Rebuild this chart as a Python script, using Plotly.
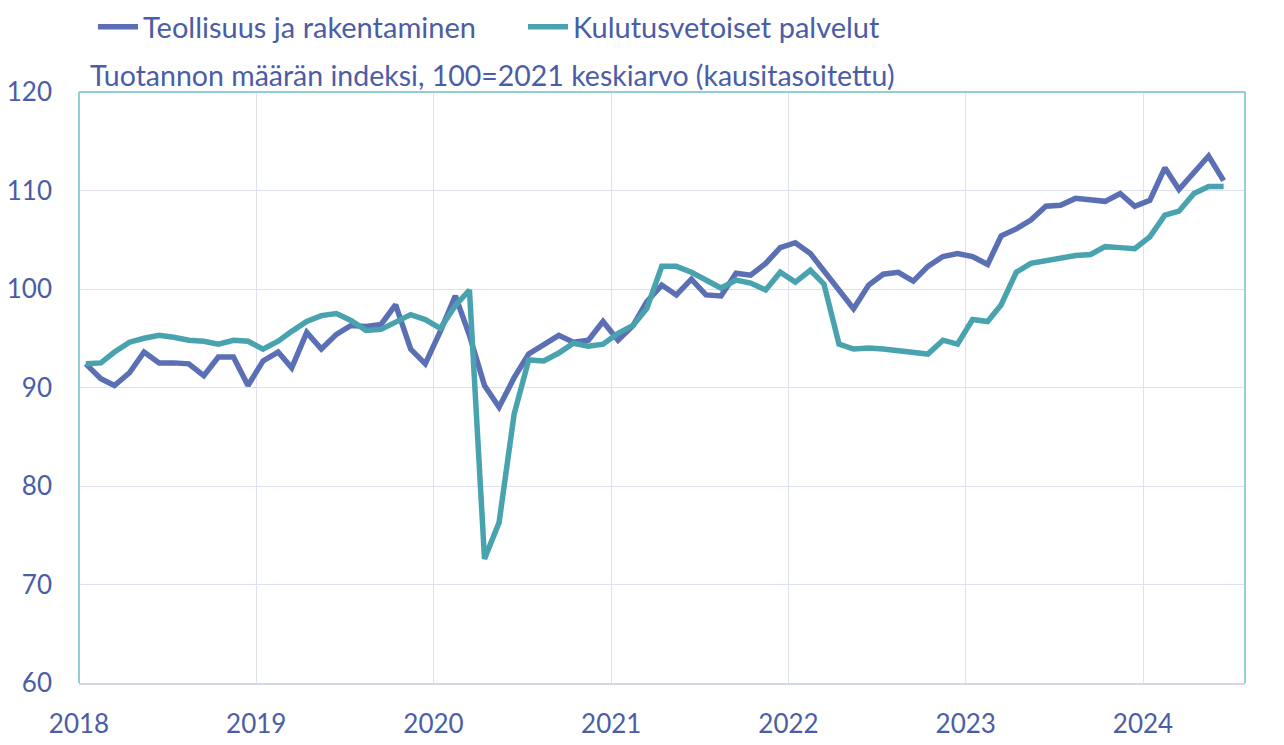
import pandas as pd
import plotly.graph_objects as go

# Monthly values, Jan 2018 - Jun 2024
teollisuus = [
    92.4, 90.9, 90.2, 91.5, 93.6, 92.5, 92.5, 92.4, 91.2, 93.1, 93.1, 90.2,   # 2018
    92.7, 93.6, 92.0, 95.6, 93.9, 95.4, 96.3, 96.2, 96.4, 98.4, 93.9, 92.4,   # 2019
    95.7, 99.3, 95.3, 90.2, 88.0, 91.0, 93.4, 94.4, 95.3, 94.6, 94.8, 96.7,   # 2020
    94.8, 96.3, 98.7, 100.4, 99.4, 101.0, 99.4, 99.3, 101.6, 101.4, 102.6, 104.2,  # 2021
    104.7, 103.6, 101.9, 100.0, 98.0, 100.4, 101.5, 101.7, 100.8, 102.3, 103.3, 103.6,  # 2022
    103.3, 102.5, 105.4, 106.1, 107.0, 108.4, 108.5, 109.2, 109.1, 108.9, 109.7, 108.4,  # 2023
    109.0, 112.3, 110.1, 111.8, 113.5, 111.0,  # 2024
]
kulutus = [
    92.4, 92.5, 93.6, 94.6, 95.0, 95.3, 95.1, 94.8, 94.7, 94.4, 94.8, 94.7,   # 2018
    93.9, 94.7, 95.7, 96.7, 97.3, 97.5, 96.8, 95.8, 95.9, 96.6, 97.4, 96.9,   # 2019
    96.0, 98.3, 99.9, 72.6, 76.3, 87.3, 92.8, 92.7, 93.5, 94.5, 94.2, 94.4,   # 2020
    95.5, 96.3, 98.0, 102.3, 102.3, 101.7, 100.9, 100.1, 100.9, 100.6, 99.9, 101.7,  # 2021
    100.7, 101.9, 100.5, 94.4, 93.9, 94.0, 93.9, 93.7, 93.5, 93.4, 94.8, 94.4,  # 2022
    96.9, 96.7, 98.4, 101.7, 102.6, 102.9, 103.2, 103.4, 103.5, 104.3, 104.2, 104.1,  # 2023
    105.3, 107.5, 107.9, 109.7, 110.4, 110.4,  # 2024
]
months = (pd.date_range("2018-01-01", periods=len(teollisuus), freq="MS") + pd.Timedelta(days=14)).strftime("%Y-%m-%d").tolist()
years = [str(y) for y in range(2018, 2025)]
series_names = ["Teollisuus ja rakentaminen", "Kulutusvetoiset palvelut"]
subtitle = "Tuotannon määrän indeksi, 100=2021 keskiarvo (kausitasoitettu)"

BLUE = "#5b6fb4"
TEAL = "#49a3ae"
TXT = "#4a5da6"
GRID = "#dde0ef"
FRAME = "#95cdd4"
FONT = "Lato"

fig = go.Figure()
fig.add_trace(go.Scatter(x=months, y=teollisuus, mode="lines", name=series_names[0],
                         line=dict(color=BLUE, width=5.5)))
fig.add_trace(go.Scatter(x=months, y=kulutus, mode="lines", name=series_names[1],
                         line=dict(color=TEAL, width=5.5)))

fig.update_layout(
    width=1276, height=737,
    margin=dict(l=71, r=39, t=84, b=62, autoexpand=False),
    paper_bgcolor="white", plot_bgcolor="white",
    font=dict(family=FONT, color=TXT, size=28),
    showlegend=True,
    legend=dict(orientation="h", x=0.012, xanchor="left", y=1.11, yanchor="middle",
                entrywidth=375, entrywidthmode="pixels", itemwidth=40,
                font=dict(size=29, color=TXT, family=FONT), bgcolor="rgba(0,0,0,0)",
                traceorder="normal", tracegroupgap=0),
    xaxis=dict(type="date", range=["2018-01-01", "2024-07-29"],
               tickvals=[f"{y}-01-01" for y in years], ticktext=years,
               showgrid=True, gridcolor=GRID, gridwidth=1,
               showline=True, linecolor="#d3d6e6", linewidth=2,
               zeroline=False, ticks="", ticklabelstandoff=17,
               tickfont=dict(size=26, color=TXT, family=FONT)),
    yaxis=dict(range=[60, 120], dtick=10, tick0=60,
               showgrid=True, gridcolor=GRID, gridwidth=1,
               showline=False, zeroline=False, ticks="", ticklabelstandoff=26,
               tickfont=dict(size=26, color=TXT, family=FONT)),
    annotations=[dict(text=subtitle, xref="paper", yref="paper", x=0.008, y=1.0,
                      xanchor="left", yanchor="middle", showarrow=False, yshift=17,
                      font=dict(size=28.5, color=TXT, family=FONT))],
    shapes=[
        dict(type="line", xref="paper", yref="paper", x0=0, x1=0, y0=0, y1=1,
             line=dict(color=FRAME, width=2), layer="above"),
        dict(type="line", xref="paper", yref="paper", x0=0, x1=1, y0=1, y1=1,
             line=dict(color=FRAME, width=2), layer="above"),
        dict(type="line", xref="paper", yref="paper", x0=1, x1=1, y0=0, y1=1,
             line=dict(color=FRAME, width=2), layer="above"),
    ],
)

fig.write_html("out.html")
